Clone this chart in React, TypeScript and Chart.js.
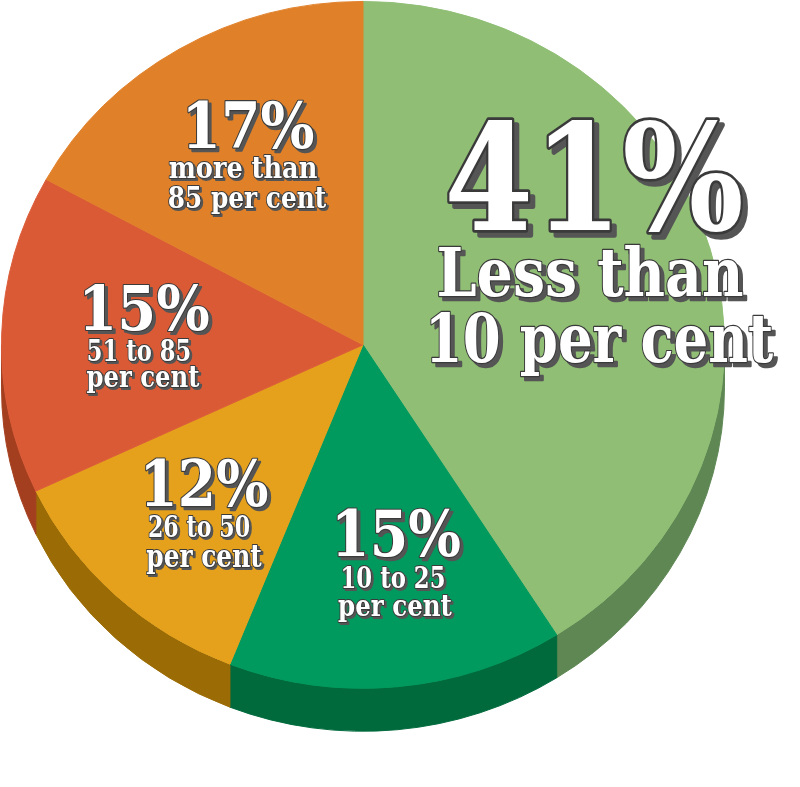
import React, { useEffect, useRef } from "react";
import { Chart, registerables } from "chart.js";

Chart.register(...registerables);

// Share of each band, clockwise from 12 o'clock
const bands = ["Less than 10 per cent", "10 to 25 per cent", "26 to 50 per cent", "51 to 85 per cent", "more than 85 per cent"];
const shares = [41, 15, 12, 15, 17];
const captionLines = [
  ["Less than", "10 per cent"],
  ["10 to 25", "per cent"],
  ["26 to 50", "per cent"],
  ["51 to 85", "per cent"],
  ["more than", "85 per cent"],
];

const topColors = ["#8fbe74", "#009a5e", "#e5a11c", "#db5a36", "#e0812a"];
const sideColors = ["#5e8753", "#006a3d", "#9b6c05", "#a33f1f", "#a85a18"];

// Pie is squashed vertically and given a thickness
const SQUASH = 0.95;
const DEPTH = 43;

// Label placement: centre x, baseline y, font size, fitted width, shadow offset
type LineBox = { cx: number; y: number; size: number; w: number; sh: number };
const labelBoxes: LineBox[][] = [
  [
    { cx: 594, y: 230, size: 148, w: 292, sh: 5 },
    { cx: 590, y: 296, size: 67, w: 304, sh: 4 },
    { cx: 599, y: 362, size: 67, w: 342, sh: 4 },
  ],
  [
    { cx: 396, y: 556, size: 63, w: 123, sh: 3 },
    { cx: 393, y: 588, size: 29, w: 101, sh: 2 },
    { cx: 395, y: 616, size: 30, w: 114, sh: 2 },
  ],
  [
    { cx: 204, y: 506, size: 63, w: 122, sh: 3 },
    { cx: 199, y: 537, size: 30, w: 100, sh: 2 },
    { cx: 204, y: 567, size: 31, w: 116, sh: 2 },
  ],
  [
    { cx: 144, y: 330, size: 61, w: 124, sh: 3 },
    { cx: 139, y: 361, size: 29, w: 101, sh: 2 },
    { cx: 143, y: 387, size: 30, w: 113, sh: 2 },
  ],
  [
    { cx: 248, y: 148, size: 63, w: 126, sh: 3 },
    { cx: 243, y: 178, size: 30, w: 148, sh: 2 },
    { cx: 247, y: 208, size: 29, w: 158, sh: 2 },
  ],
];

const FONT = '"DejaVu Serif", serif';

function drawLabelLine(ctx: CanvasRenderingContext2D, text: string, box: LineBox) {
  ctx.save();
  ctx.font = `bold ${box.size}px ${FONT}`;
  ctx.textAlign = "center";
  ctx.textBaseline = "alphabetic";
  const m = ctx.measureText(text);
  const inked = m.actualBoundingBoxLeft + m.actualBoundingBoxRight;
  const sx = box.w / inked;
  ctx.translate(box.cx, box.y);
  ctx.scale(sx, 1);
  ctx.lineJoin = "round";
  const lw = Math.max(2, box.size / 28);
  // drop shadow
  ctx.fillStyle = "#555555";
  ctx.strokeStyle = "#555555";
  ctx.lineWidth = lw;
  ctx.strokeText(text, box.sh / sx, box.sh);
  ctx.fillText(text, box.sh / sx, box.sh);
  // outline and face
  ctx.strokeStyle = "#3a3a3a";
  ctx.lineWidth = lw;
  ctx.strokeText(text, 0, 0);
  ctx.fillStyle = "#ffffff";
  ctx.fillText(text, 0, 0);
  ctx.restore();
}

const TAU = Math.PI * 2;
const norm = (a: number) => ((a % TAU) + TAU) % TAU;

const tiltPlugin = {
  id: "tiltedPie",
  beforeDatasetsDraw(chart: any) {
    const ctx: CanvasRenderingContext2D = chart.ctx;
    const meta = chart.getDatasetMeta(0);
    ctx.save();
    ctx.scale(1, SQUASH);
    // side walls for the front half of the rim
    meta.data.forEach((arc: any, i: number) => {
      const { x, y, startAngle, endAngle, outerRadius } = arc.getProps(
        ["x", "y", "startAngle", "endAngle", "outerRadius"],
        true
      );
      const a = norm(startAngle);
      const b = a + (endAngle - startAngle);
      // visible range is 0..PI (and 2PI..3PI after wrap)
      const ranges: [number, number][] = [];
      for (const off of [0, TAU]) {
        const s = Math.max(a, off);
        const e = Math.min(b, off + Math.PI);
        if (e > s) ranges.push([s, e]);
      }
      const dy = DEPTH / SQUASH;
      ranges.forEach(([s, e]) => {
        ctx.beginPath();
        ctx.arc(x, y, outerRadius, s, e, false);
        ctx.arc(x, y + dy, outerRadius, e, s, true);
        ctx.closePath();
        ctx.fillStyle = sideColors[i];
        ctx.strokeStyle = sideColors[i];
        ctx.lineWidth = 1;
        ctx.fill();
        ctx.stroke();
      });
    });
  },
  afterDatasetsDraw(chart: any) {
    chart.ctx.restore();
  },
  afterDraw(chart: any) {
    const ctx: CanvasRenderingContext2D = chart.ctx;
    shares.forEach((v, i) => {
      const lines = [`${v}%`, ...captionLines[i]];
      lines.forEach((t, j) => drawLabelLine(ctx, t, labelBoxes[i][j]));
    });
  },
};

export default function App() {
  const ref = useRef<HTMLCanvasElement | null>(null);

  useEffect(() => {
    if (!ref.current) return;
    const chart = new Chart(ref.current, {
      type: "pie",
      data: {
        labels: bands,
        datasets: [
          {
            data: shares,
            backgroundColor: topColors,
            borderColor: topColors,
            borderWidth: 1,
          },
        ],
      },
      options: {
        animation: false,
        responsive: false,
        events: [],
        layout: { padding: { left: 1, top: 1, right: 75, bottom: 62 } },
        plugins: {
          legend: { display: false },
          tooltip: { enabled: false },
        },
      },
      plugins: [tiltPlugin],
    });
    return () => chart.destroy();
  }, []);

  return (
    <div style={{ position: "absolute", left: 0, top: 0, width: 800, height: 787, background: "#fff" }}>
      <canvas ref={ref} width={800} height={787} style={{ display: "block" }} />
    </div>
  );
}
